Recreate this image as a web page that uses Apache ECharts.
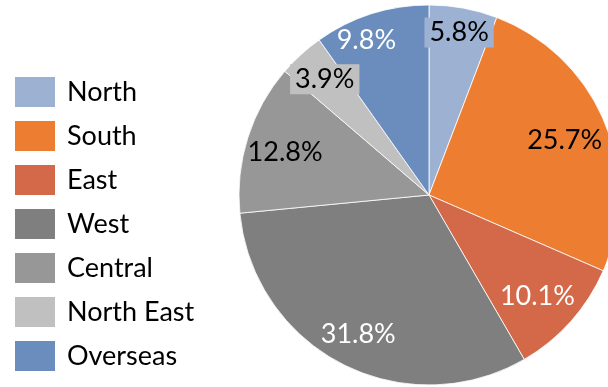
<!DOCTYPE html>
<html>
<head>
<meta charset="utf-8">
<script src="https://cdn.jsdelivr.net/npm/echarts@6/dist/echarts.min.js"></script>
<style>
  html, body { margin: 0; padding: 0; background: #fff; }
  #chart { width: 608px; height: 387px; }
</style>
</head>
<body>
<div id="chart"></div>
<script>
// Regional share of sales (%)
const regions = ['North', 'South', 'East', 'West', 'Central', 'North East', 'Overseas'];
const shares = [5.8, 25.7, 10.1, 31.8, 12.8, 3.9, 9.8];

// Slice fills and label text colours
const sliceColors = ['#9DB1D3', '#ED7D31', '#D4694A', '#7F7F7F', '#979797', '#C0C0C0', '#6B8DBD'];
const labelColors = ['#000', '#000', '#fff', '#fff', '#000', '#000', '#fff'];
// Labels drawn on a box of the slice colour
const boxedLabel = [true, false, false, false, false, true, false];
// Label placement: angle (deg clockwise from top) and radius fraction
const labelPlacement = [[10.5, 0.87], [68, 0.77], [133, 0.78], [207, 0.82], [286.5, 0.79], [318, 0.82], [338, 0.88]];

const CX = 429, CY = 195, R = 190;
const FONT = 'Lato, "Open Sans", sans-serif';

const chart = echarts.init(document.getElementById('chart'), null, { renderer: 'canvas' });

const data = regions.map((name, i) => ({
  name,
  value: shares[i],
  itemStyle: { color: sliceColors[i] },
  label: {
    color: labelColors[i],
    backgroundColor: boxedLabel[i] ? sliceColors[i] : 'transparent',
    padding: boxedLabel[i] ? [1, 5, 1, 5] : 0
  }
}));

chart.setOption({
  animation: false,
  legend: {
    orient: 'vertical',
    left: 13,
    top: 75,
    height: 310,
    padding: 0,
    itemWidth: 42,
    itemHeight: 32,
    itemGap: 10,
    icon: 'rect',
    textStyle: { fontFamily: FONT, fontSize: 27, lineHeight: 32, color: '#000', padding: [0, 0, 0, 6] },
    data: regions
  },
  series: [{
    type: 'pie',
    center: [CX, CY],
    radius: R,
    startAngle: 90,
    clockwise: true,
    avoidLabelOverlap: false,
    itemStyle: { borderColor: '#fff', borderWidth: 0.8 },
    label: {
      show: true,
      position: 'inside',
      formatter: p => p.value.toFixed(1) + '%',
      fontFamily: FONT,
      fontSize: 27,
      lineHeight: 28
    },
    labelLine: { show: false },
    labelLayout: params => {
      const [ang, frac] = labelPlacement[params.dataIndex];
      const a = ang * Math.PI / 180;
      return {
        x: CX + frac * R * Math.sin(a),
        y: CY - frac * R * Math.cos(a),
        align: 'center',
        verticalAlign: 'middle'
      };
    },
    emphasis: { disabled: true },
    data
  }]
});
</script>
</body>
</html>
